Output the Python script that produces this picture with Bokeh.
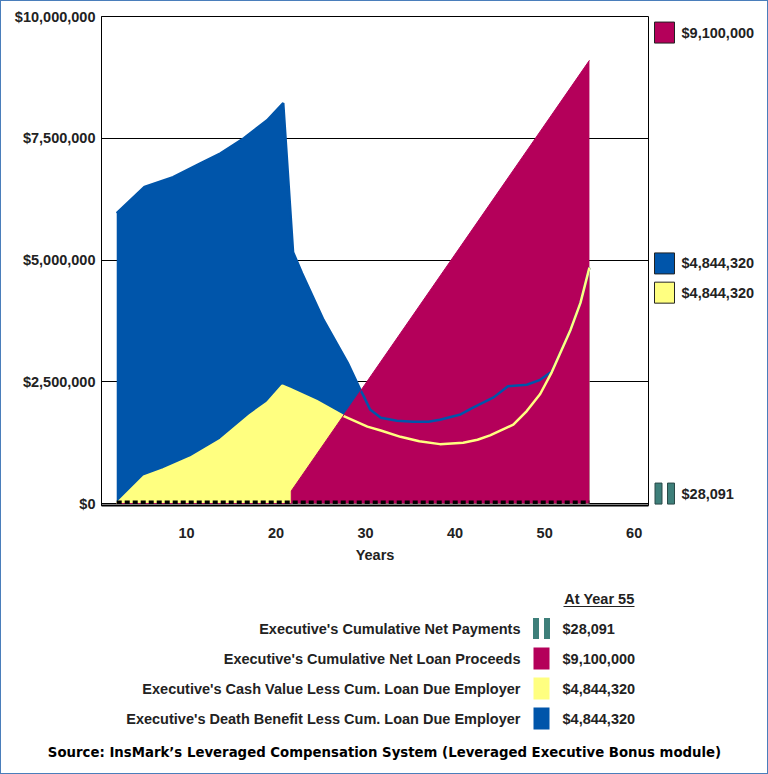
from bokeh.plotting import figure
from bokeh.models import Range1d, FixedTicker
from bokeh.layouts import row, column
from bokeh.embed import file_html
from bokeh.resources import INLINE
from bokeh.core.properties import value

# ---------------- data ----------------
db_years = [2.2, 5.3, 8.5, 11.6, 13.8, 16.4, 19.0, 20.8, 21.9, 22.9, 25.3, 28.0,
            29.4, 29.8, 30.5, 31.7, 33.5, 35.3, 37.0, 38.3, 40.6, 42.0, 44.3,
            45.9, 48.0, 49.5, 50.8, 52.9, 54.0, 55.0]
db_vals = [5960000, 6500000, 6700000, 6990000, 7190000, 7500000, 7870000, 8220000,
           5160000, 4730000, 3770000, 2890000, 2340000, 2200000, 1930000, 1760000,
           1700000, 1680000, 1680000, 1720000, 1830000, 1970000, 2180000, 2410000,
           2440000, 2540000, 2710000, 3570000, 4120000, 4844320]

cv_years = [2.2, 5.2, 7.4, 10.4, 13.8, 17.1, 19.0, 20.7, 21.5, 24.5, 27.5, 30.2,
            31.7, 33.9, 36.0, 38.3, 40.9, 42.5, 43.9, 46.5, 48.0, 49.5, 50.8,
            52.9, 54.0, 55.0]
cv_vals = [0, 550000, 700000, 940000, 1310000, 1820000, 2070000, 2420000, 2360000,
           2110000, 1800000, 1580000, 1500000, 1370000, 1280000, 1220000, 1250000,
           1310000, 1400000, 1620000, 1900000, 2250000, 2700000, 3570000, 4120000,
           4844320]

loan_years = [2.2, 21.7, 21.7, 55.0]
loan_vals = [0, 0, 260000, 9100000]

pay_years = [2.2, 55.0]
pay_vals = [28091, 28091]

x_ticks = [10, 20, 30, 40, 50, 60]
x_tick_labels = ["10", "20", "30", "40", "50", "60"]
y_ticks = [0, 2500000, 5000000, 7500000, 10000000]
y_tick_labels = ["$0", "$2,500,000", "$5,000,000", "$7,500,000", "$10,000,000"]

legend_names = ["Executive's Cumulative Net Payments",
                "Executive's Cumulative Net Loan Proceeds",
                "Executive's Cash Value Less Cum. Loan Due Employer",
                "Executive's Death Benefit Less Cum. Loan Due Employer"]
legend_values = ["$28,091", "$9,100,000", "$4,844,320", "$4,844,320"]
legend_header = "At Year 55"
source_text = "Source: InsMark\u2019s Leveraged Compensation System (Leveraged Executive Bonus module)"

# ---------------- style ----------------
BLUE = "#0055AA"
YELLOW = "#FFFF80"
MAGENTA = "#B4005A"
TEAL = "#3E7F7A"
TXT = "#222222"
FONT = "Liberation Sans"
SRC_FONT = "DejaVu Sans"
FS = "14.5px"

# ---------------- main chart ----------------
p = figure(width=649, height=567, x_range=Range1d(0.5, 61.6),
           y_range=Range1d(-40000, 10000000),
           output_backend="svg", toolbar_location=None,
           min_border_left=100, min_border_right=2,
           min_border_top=15, min_border_bottom=63)
p.background_fill_color = "white"
p.border_fill_color = "white"
p.outline_line_color = "black"
p.outline_line_width = 1
p.xgrid.visible = False
p.ygrid.ticker = FixedTicker(ticks=y_ticks)
p.ygrid.grid_line_color = "black"
p.ygrid.grid_line_width = 1

p.yaxis.ticker = FixedTicker(ticks=y_ticks)
p.yaxis.major_label_overrides = dict(zip(y_ticks, y_tick_labels))
p.xaxis.ticker = FixedTicker(ticks=x_ticks)
p.xaxis.major_label_overrides = dict(zip(x_ticks, x_tick_labels))
for ax in (p.xaxis[0], p.yaxis[0]):
    ax.major_tick_in = 0
    ax.major_tick_out = 0
    ax.minor_tick_in = 0
    ax.minor_tick_out = 0
    ax.axis_line_color = "black"
    ax.major_label_text_font = FONT
    ax.major_label_text_font_style = "bold"
    ax.major_label_text_font_size = FS
    ax.major_label_text_color = TXT
p.yaxis.major_label_standoff = 6
p.xaxis.axis_line_width = 2
p.xaxis.major_label_standoff = 22
p.xaxis.axis_label = "Years"
p.xaxis.axis_label_standoff = 6
p.xaxis.axis_label_text_font = FONT
p.xaxis.axis_label_text_font_style = "bold"
p.xaxis.axis_label_text_font_size = FS
p.xaxis.axis_label_text_color = TXT

p.varea(x=db_years, y1=0, y2=db_vals, fill_color=BLUE)
p.varea(x=cv_years, y1=0, y2=cv_vals, fill_color=YELLOW)
p.varea(x=loan_years, y1=0, y2=loan_vals, fill_color=MAGENTA)
p.line(db_years, db_vals, line_color=BLUE, line_width=2.5)
p.line(cv_years, cv_vals, line_color=YELLOW, line_width=2.5)
p.line(loan_years, loan_vals, line_color=MAGENTA, line_width=1)
p.line(pay_years, pay_vals, line_color="black", line_width=3.5, line_dash="5 3")

# ---------------- right-hand value tags ----------------
r = figure(width=117, height=567, x_range=Range1d(0, 117), y_range=p.y_range,
           x_axis_type=None, y_axis_type=None,
           output_backend="svg", toolbar_location=None,
           min_border_left=0, min_border_right=0,
           min_border_top=15, min_border_bottom=63)
r.outline_line_color = None
r.grid.visible = False
# slot y positions for tags: net payments, loan, cash value, death benefit
tag_y = [205000, 9670000, 4330000, 4930000]
tag_colors = [TEAL, MAGENTA, YELLOW, BLUE]
r.rect(x=[14, 14, 14], y=tag_y[1:], width=20, height=21,
       width_units="screen", height_units="screen",
       fill_color=tag_colors[1:], line_color="#222222", line_width=1)
r.rect(x=[8, 20.5], y=[tag_y[0], tag_y[0]], width=7, height=21,
       width_units="screen", height_units="screen",
       fill_color=TEAL, line_color="#2a4a48", line_width=1)
r.text(x=[31] * 4, y=tag_y, text=legend_values,
       text_font=value(FONT), text_font_style="bold", text_font_size=FS,
       text_color=TXT, text_align="left", text_baseline="middle")

# ---------------- bottom legend table ----------------
BW, BH = 766, 205
b = figure(width=BW, height=BH, x_range=Range1d(1, 1 + BW), y_range=Range1d(568 + BH, 568),
           x_axis_type=None, y_axis_type=None,
           output_backend="svg", toolbar_location=None, min_border=0)
b.outline_line_color = None
b.grid.visible = False
row_y = [628, 658, 688, 718]
b.text(x=[634], y=[598], text=[legend_header],
       text_font=value(FONT), text_font_style="bold", text_font_size=FS,
       text_color=TXT, text_align="right", text_baseline="middle")
b.segment(x0=[563], y0=[606], x1=[634], y1=[606], line_color=TXT, line_width=1)
b.text(x=[520] * 4, y=row_y, text=legend_names,
       text_font=value(FONT), text_font_style="bold", text_font_size=FS,
       text_color=TXT, text_align="right", text_baseline="middle")
b.text(x=[562] * 4, y=row_y, text=legend_values,
       text_font=value(FONT), text_font_style="bold", text_font_size=FS,
       text_color=TXT, text_align="left", text_baseline="middle")
b.rect(x=[535.5, 546.5], y=[row_y[0], row_y[0]], width=6, height=21,
       fill_color=TEAL, line_color=None)
b.rect(x=[541, 541, 541], y=row_y[1:], width=16, height=22,
       fill_color=tag_colors[1:], line_color=None)
b.text(x=[384], y=[752], text=[source_text],
       text_font=value(SRC_FONT), text_font_style="bold", text_font_size="13.3px",
       text_color="black", text_align="center", text_baseline="middle")

layout = column(row(p, r), b, styles={"border": "1px solid #4A7EBB"})
open("out.html", "w").write(file_html(layout, INLINE))
